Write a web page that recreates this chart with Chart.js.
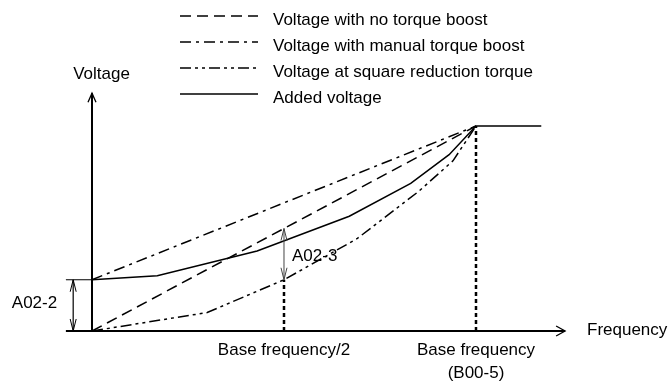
<!DOCTYPE html>
<html lang="en">
<head>
<meta charset="UTF-8">
<title>V/f pattern</title>
<script src="https://cdn.jsdelivr.net/npm/chart.js"></script>
<style>
  html, body { margin: 0; padding: 0; background: white; }
  .wrap { position: relative; width: 668px; height: 383px; }
</style>
</head>
<body>
<div class="wrap"><canvas id="vfChart"></canvas></div>
<script>
// frequency in % of base frequency, voltage in % of rated voltage
const noBoostFreq = [0, 100];
const noBoostVolt = [0, 100];
const manualFreq = [0, 100];
const manualVolt = [25, 100];
const squareFreq = [0, 30, 50, 69, 85, 94, 100];
const squareVolt = [0, 9, 25, 45, 68, 83, 100];
const addedFreq = [0, 17, 43, 67, 83, 93, 100, 117];
const addedVolt = [25, 27, 39, 56, 72, 86, 100, 100];
const seriesLabels = [
  'Voltage with no torque boost',
  'Voltage with manual torque boost',
  'Voltage at square reduction torque',
  'Added voltage'
];
const tickValues = [50, 100];
const tickLabels = [['Base frequency/2'], ['Base frequency', '(B00-5)']];
const boostLevel = 25;      // A02-2
const halfLinear = 50;      // top of A02-3
const halfSquare = 25;      // bottom of A02-3

const pts = (xs, ys) => xs.map((x, i) => ({ x: x, y: ys[i] }));
const FONT = '17px "Liberation Sans", Arial, sans-serif';

const dashes = [[11, 6], [11, 5, 3, 5], [11, 4, 3, 4, 3, 4], []];

function arrowHead(ctx, x, y, dx, dy, len, half) {
  const px = -dy, py = dx;
  ctx.beginPath();
  ctx.moveTo(x - dx * len + px * half, y - dy * len + py * half);
  ctx.lineTo(x, y);
  ctx.lineTo(x - dx * len - px * half, y - dy * len - py * half);
  ctx.stroke();
}

const diagram = {
  id: 'diagram',
  afterDatasetsDraw(chart) {
    const ctx = chart.ctx;
    const X = v => chart.scales.x.getPixelForValue(v);
    const Y = v => chart.scales.y.getPixelForValue(v);
    ctx.save();
    ctx.strokeStyle = '#000';
    ctx.fillStyle = '#000';
    ctx.setLineDash([]);

    // axes
    ctx.lineWidth = 2;
    ctx.beginPath();
    ctx.moveTo(X(-6.8), Y(0)); ctx.lineTo(X(123.2), Y(0));
    ctx.moveTo(X(0), Y(0)); ctx.lineTo(X(0), Y(116));
    ctx.stroke();
    ctx.lineWidth = 1.3;
    arrowHead(ctx, X(123.2), Y(0), 1, 0, 9, 5);
    arrowHead(ctx, X(0), Y(116), 0, -1, 9, 4);

    // boost extension line and A02-2 arrow
    ctx.lineWidth = 1.2;
    ctx.beginPath();
    ctx.moveTo(X(-6.8), Y(boostLevel)); ctx.lineTo(X(0), Y(boostLevel));
    ctx.moveTo(X(-4.9), Y(boostLevel)); ctx.lineTo(X(-4.9), Y(0));
    ctx.stroke();
    ctx.lineWidth = 1;
    arrowHead(ctx, X(-4.9), Y(boostLevel), 0, -1, 12, 3);
    arrowHead(ctx, X(-4.9), Y(0), 0, 1, 12, 3);

    // A02-3 arrow
    ctx.strokeStyle = '#444';
    ctx.beginPath();
    ctx.moveTo(X(50), Y(halfSquare)); ctx.lineTo(X(50), Y(halfLinear));
    ctx.stroke();
    arrowHead(ctx, X(50), Y(halfLinear), 0, -1, 12, 3);
    arrowHead(ctx, X(50), Y(halfSquare), 0, 1, 12, 3);
    ctx.strokeStyle = '#000';

    // texts
    ctx.font = FONT;
    ctx.textBaseline = 'middle';
    ctx.textAlign = 'center';
    ctx.fillText('Voltage', 101.5, 74);
    ctx.fillText('A02-2', 34.5, 303);
    tickValues.forEach((v, i) => {
      tickLabels[i].forEach((t, j) => ctx.fillText(t, X(v), 350 + j * 23));
    });
    ctx.textAlign = 'left';
    ctx.fillText('Frequency', 587, 330);
    ctx.fillText('A02-3', 292, 256);

    // legend
    chart.data.datasets.slice(0, 4).forEach((ds, i) => {
      const y = 16 + i * 26;
      ctx.lineWidth = 1.5;
      ctx.setLineDash(ds.borderDash);
      ctx.beginPath();
      ctx.moveTo(180, y); ctx.lineTo(258, y);
      ctx.stroke();
      ctx.setLineDash([]);
      ctx.fillText(ds.label, 273, y + 4);
    });
    ctx.restore();
  }
};

const series = [
  pts(noBoostFreq, noBoostVolt),
  pts(manualFreq, manualVolt),
  pts(squareFreq, squareVolt),
  pts(addedFreq, addedVolt)
];

const datasets = series.map((d, i) => ({
  label: seriesLabels[i],
  data: d,
  borderColor: '#000',
  borderWidth: 1.5,
  borderDash: dashes[i],
  pointRadius: 0,
  tension: 0,
  fill: false
}));

// dotted guides at base frequency/2 and base frequency
tickValues.forEach(v => {
  const top = v === 50 ? halfSquare : 100;
  datasets.push({
    label: '',
    data: [{ x: v, y: 0 }, { x: v, y: top }],
    borderColor: '#000',
    borderWidth: 2.5,
    borderDash: [4, 3],
    pointRadius: 0,
    fill: false
  });
});

new Chart(document.getElementById('vfChart'), {
  type: 'line',
  data: { datasets: datasets },
  options: {
    responsive: true,
    maintainAspectRatio: false,
    animation: false,
    layout: { padding: 0 },
    plugins: { legend: { display: false }, tooltip: { enabled: false } },
    scales: {
      x: { type: 'linear', display: false, min: -23.958, max: 150 },
      y: { type: 'linear', display: false, min: -25.37, max: 161.46 }
    }
  },
  plugins: [diagram]
});
</script>
</body>
</html>
